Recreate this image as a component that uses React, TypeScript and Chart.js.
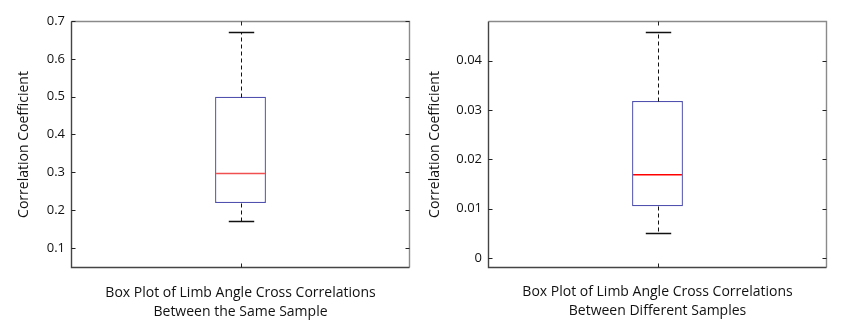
import React, { useEffect, useRef } from "react";
import { Chart, registerables } from "chart.js";

Chart.register(...registerables);

// ---- data ----
const categories = ["Between the Same Sample", "Between Different Samples"];
// [lower whisker, Q1, median, Q3, upper whisker]
const sameSampleStats = [0.171, 0.219, 0.297, 0.5, 0.672];
const diffSampleStats = [0.0051, 0.0105, 0.0169, 0.0318, 0.0457];
const sameTitle = ["Box Plot of Limb Angle Cross Correlations", "Between the Same Sample"];
const diffTitle = ["Box Plot of Limb Angle Cross Correlations", "Between Different Samples"];
const yTitle = "Correlation Coefficient";
const sameRange = [0.047, 0.7];
const diffRange = [-0.002, 0.048];
const sameTicks = [0.1, 0.2, 0.3, 0.4, 0.5, 0.6, 0.7];
const diffTicks = [0, 0.01, 0.02, 0.03, 0.04];

const FONT = "'Open Sans', 'DejaVu Sans', sans-serif";
const TEXT = "#111111";

type Cfg = {
  label: string;
  stats: number[];
  range: number[];
  ticks: number[];
  title: string[];
  width: number;
  padRight: number;
  axisWidth: number;
  yTitlePad: number;
  xTitlePad: number;
  medianColor: string;
};

function makePlugin(cfg: Cfg) {
  return {
    id: "boxExtras",
    afterDatasetsDraw(chart: any) {
      const ctx = chart.ctx;
      const area = chart.chartArea;
      const y = chart.scales.y;
      const bar = chart.getDatasetMeta(0).data[0];
      const cx = Math.round(bar.x) + 0.5;
      const halfBox = bar.width / 2;
      const cap = halfBox / 2;
      const [lo, q1, med, q3, hi] = cfg.stats;
      const py = (v: number) => Math.round(y.getPixelForValue(v)) + 0.5;
      ctx.save();
      // whiskers
      ctx.strokeStyle = "#111";
      ctx.lineWidth = 1;
      ctx.setLineDash([4, 3]);
      ctx.beginPath();
      ctx.moveTo(cx, py(q3));
      ctx.lineTo(cx, py(hi));
      ctx.moveTo(cx, py(q1));
      ctx.lineTo(cx, py(lo));
      ctx.stroke();
      ctx.setLineDash([]);
      ctx.lineWidth = 1.3;
      ctx.beginPath();
      ctx.moveTo(cx - cap, py(hi));
      ctx.lineTo(cx + cap, py(hi));
      ctx.moveTo(cx - cap, py(lo));
      ctx.lineTo(cx + cap, py(lo));
      ctx.stroke();
      // median
      ctx.strokeStyle = cfg.medianColor;
      ctx.lineWidth = 1.5;
      ctx.beginPath();
      ctx.moveTo(bar.x - halfBox + 1, y.getPixelForValue(med));
      ctx.lineTo(bar.x + halfBox - 1, y.getPixelForValue(med));
      ctx.stroke();
      // frame
      const L = area.left + 0.5, R = area.right - 0.5, T = area.top + 0.5, B = area.bottom - 0.5;
      ctx.lineWidth = 1.4;
      ctx.strokeStyle = "#8a8a8a";
      ctx.beginPath();
      ctx.moveTo(L, T);
      ctx.lineTo(R, T);
      ctx.lineTo(R, B);
      ctx.stroke();
      ctx.strokeStyle = "#444";
      ctx.beginPath();
      ctx.moveTo(L, T);
      ctx.lineTo(L, B);
      ctx.lineTo(R, B);
      ctx.stroke();
      // inward ticks
      ctx.strokeStyle = "#222";
      ctx.lineWidth = 1;
      ctx.beginPath();
      for (const t of y.ticks) {
        const p = py(t.value);
        ctx.moveTo(L, p);
        ctx.lineTo(L + 4, p);
        ctx.moveTo(R, p);
        ctx.lineTo(R - 4, p);
      }
      ctx.moveTo(cx, T);
      ctx.lineTo(cx, T + 4);
      ctx.moveTo(cx, B);
      ctx.lineTo(cx, B - 4);
      ctx.stroke();
      ctx.restore();
    },
  };
}

function BoxChart({ cfg }: { cfg: Cfg }) {
  const ref = useRef<HTMLCanvasElement | null>(null);
  useEffect(() => {
    if (!ref.current) return;
    const [, q1, , q3] = cfg.stats;
    const chart = new Chart(ref.current, {
      type: "bar",
      data: {
        labels: [cfg.label],
        datasets: [
          {
            data: [[q1, q3]] as any,
            backgroundColor: "#ffffff",
            borderColor: "#5050ae",
            borderWidth: 1.3,
            borderSkipped: false,
            barPercentage: 0.15,
            categoryPercentage: 1,
          },
        ],
      },
      options: {
        responsive: false,
        animation: false,
        devicePixelRatio: 1,
        layout: { padding: { left: 0, top: 21, right: cfg.padRight, bottom: 0 } },
        plugins: { legend: { display: false }, tooltip: { enabled: false }, title: { display: false } },
        scales: {
          x: {
            type: "category",
            grid: { display: false },
            border: { display: false },
            ticks: { display: false },
            title: {
              display: true,
              text: cfg.title,
              color: TEXT,
              font: { family: FONT, size: 14, lineHeight: 1.4 },
              padding: { top: 0, bottom: cfg.xTitlePad },
            },
            afterFit: (s: any) => {
              s.height = 59;
            },
          },
          y: {
            type: "linear",
            min: cfg.range[0],
            max: cfg.range[1],
            grid: { display: false, drawTicks: false },
            border: { display: false },
            afterBuildTicks: (s: any) => {
              s.ticks = cfg.ticks.map((v) => ({ value: v }));
            },
            ticks: {
              padding: 6,
              color: TEXT,
              font: { family: FONT, size: 13 },
              callback: (v: any) => String(Number(Number(v).toFixed(4))),
            },
            title: {
              display: true,
              text: yTitle,
              color: TEXT,
              font: { family: FONT, size: 14, lineHeight: 1.2 },
              padding: { top: cfg.yTitlePad, bottom: 0 },
            },
            afterFit: (s: any) => {
              s.width = cfg.axisWidth;
            },
          },
        },
      },
      plugins: [makePlugin(cfg)],
    });
    return () => chart.destroy();
  }, [cfg]);
  return <canvas ref={ref} width={cfg.width} height={327} style={{ display: "block", width: cfg.width, height: 327 }} />;
}

const leftCfg: Cfg = {
  label: categories[0],
  stats: sameSampleStats,
  range: sameRange,
  ticks: sameTicks,
  title: sameTitle,
  width: 420,
  padRight: 10,
  axisWidth: 71,
  yTitlePad: 16,
  xTitlePad: 5,
  medianColor: "#f05050",
};

const rightCfg: Cfg = {
  label: categories[1],
  stats: diffSampleStats,
  range: diffRange,
  ticks: diffTicks,
  title: diffTitle,
  width: 422,
  padRight: 15,
  axisWidth: 68,
  yTitlePad: 7,
  xTitlePad: 6,
  medianColor: "#ff0000",
};

export default function App() {
  return (
    <div style={{ position: "absolute", left: 0, top: 0, width: 842, height: 327, background: "#fff" }}>
      <div style={{ position: "absolute", left: 0, top: 0 }}>
        <BoxChart cfg={leftCfg} />
      </div>
      <div style={{ position: "absolute", left: 420, top: 0 }}>
        <BoxChart cfg={rightCfg} />
      </div>
    </div>
  );
}
